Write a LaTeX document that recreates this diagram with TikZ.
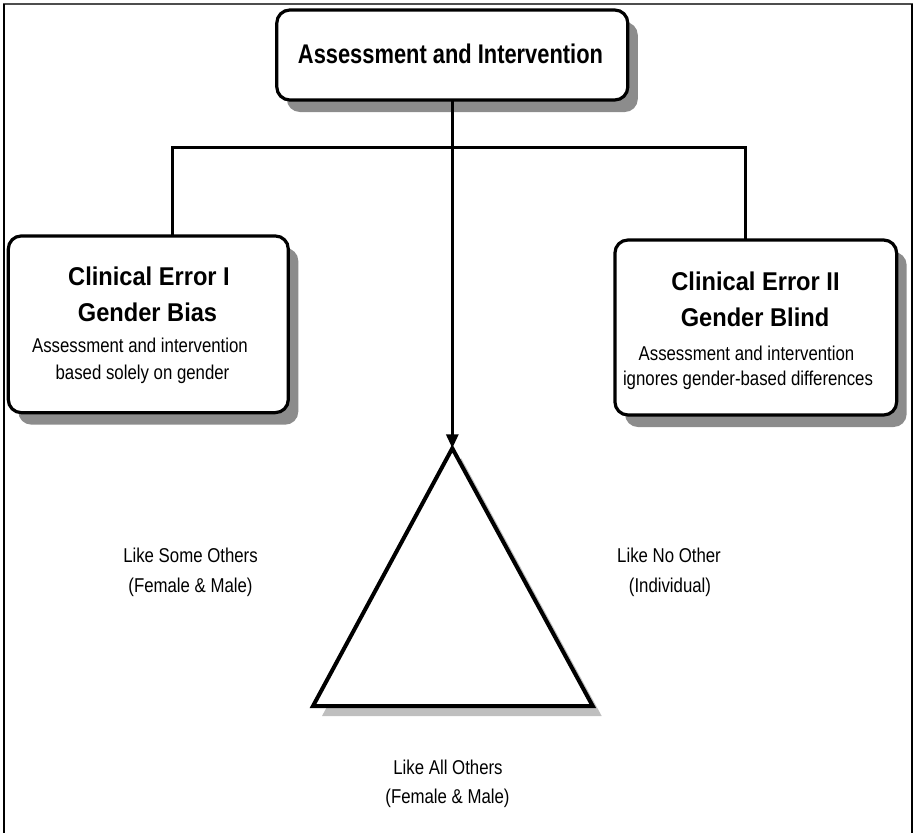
\documentclass[tikz,border=0pt]{standalone}
\usepackage{fontspec}
\setmainfont{Liberation Sans}
\newfontfamily\bodyf{Liberation Sans}[FakeStretch=0.84]
\newfontfamily\titlef{Liberation Sans}[FakeStretch=0.92]
\newfontfamily\toptitlef{Liberation Sans}[FakeStretch=0.81]
\usetikzlibrary{arrows.meta,shadows}
\definecolor{boxshadow}{HTML}{8C8C8C}
\definecolor{trishadow}{HTML}{BFBFBF}
\definecolor{framegray}{HTML}{4D4D4D}
\tikzset{
  roundbox/.style={draw=black, line width=3.2pt, fill=white, rounded corners=13pt,
    inner sep=0pt, outer sep=0pt,
    general shadow={fill=boxshadow, shadow xshift=10pt, shadow yshift=-12pt}},
  conn/.style={draw=black, line width=3pt},
  bodytxt/.style={font=\bodyf\fontsize{20}{24}\selectfont, anchor=base, inner sep=0pt},
  titletxt/.style={font=\titlef\bfseries\fontsize{25.7}{30}\selectfont, anchor=base, inner sep=0pt},
  toptxt/.style={font=\toptitlef\bfseries\fontsize{27}{32}\selectfont, anchor=base, inner sep=0pt},
}
\begin{document}
\begin{tikzpicture}[x=1pt,y=-1pt]
\useasboundingbox (0,0) rectangle (914,833);
% frame
\draw[framegray, line width=2.5pt] (3,4) -- (912.5,4);
\draw[black, line width=2pt] (4,4) -- (4,833);
\draw[black, line width=2pt] (911.5,4) -- (911.5,833);

% boxes
\node[roundbox, minimum width=351pt, minimum height=90pt] (top) at (452.3,55) {};
\node[roundbox, minimum width=280pt, minimum height=176.7pt] (left) at (148.3,324.3) {};
\node[roundbox, minimum width=281.7pt, minimum height=175pt] (right) at (755.8,327.5) {};

% texts
\node[toptxt] (toptitle) at (450.5,63.3) {Assessment and Intervention};
\node[titletxt] (l1) at (149,285) {Clinical Error I};
\node[titletxt] (l2) at (147.5,321.7) {Gender Bias};
\node[bodytxt] (l3) at (140,352.7) {Assessment and intervention};
\node[bodytxt] (l4) at (142.5,379.3) {based solely on gender};
\node[titletxt] (r1) at (755.5,290) {Clinical Error II};
\node[titletxt] (r2) at (755,326.7) {Gender Blind};
\node[bodytxt] (r3) at (746.5,360) {Assessment and intervention};
\node[bodytxt] (r4) at (748,385) {ignores gender-based differences};

% triangle
\coordinate (apex) at (452.3,448.3);
\coordinate (bl) at (313,706);
\coordinate (br) at (592.7,706);
\fill[trishadow] ([shift={(9,10)}]apex) -- ([shift={(9,10)}]bl) -- ([shift={(9,10)}]br) -- cycle;
\fill[white] (apex) -- (bl) -- (br) -- cycle;
\draw[black, line width=4pt, line join=miter] (apex) -- (bl) -- (br) -- cycle;

% connectors
\coordinate (hl) at (172.7,147);
\coordinate (hr) at (745,147);
\draw[conn] (left.north -| hl) -- (hl) -- (hr) -- (hr |- right.north);
\draw[conn, -{Triangle[length=14pt,width=12pt]}] (top.south -| apex) -- (apex);

% labels
\node[bodytxt] (s1) at (190.5,562) {Like Some Others};
\node[bodytxt] (s2) at (190.5,592) {(Female \& Male)};
\node[bodytxt] (n1) at (669,562) {Like No Other};
\node[bodytxt] (n2) at (670,592) {(Individual)};
\node[bodytxt] (a1) at (448,774) {Like All Others};
\node[bodytxt] (a2) at (447.5,803) {(Female \& Male)};
\end{tikzpicture}
\end{document}
